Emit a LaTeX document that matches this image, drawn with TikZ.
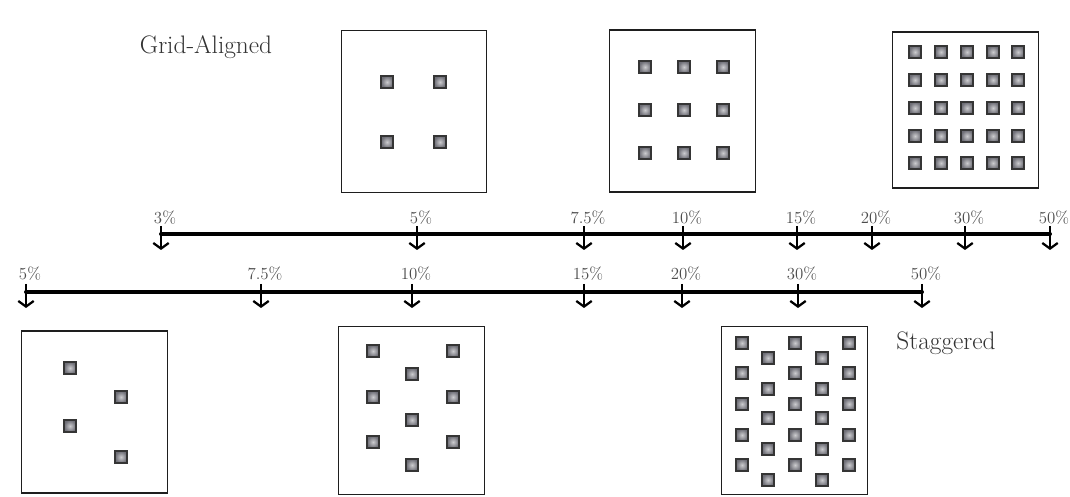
\documentclass[tikz,border=0pt]{standalone}
\usepackage{xcolor}
\usepackage{tikz}
\usetikzlibrary{arrows.meta,positioning,calc}
\definecolor{tinta}{RGB}{30,30,30}
\definecolor{grafito}{RGB}{110,110,118}
\tikzset{
  lamina/.style={draw=tinta,line width=0.8pt,minimum width=3.63cm,inner sep=0pt},
  hueco/.style={draw=tinta!90,line width=1.2pt,inner color=grafito!35,outer color=grafito,minimum size=0.29cm,inner sep=0pt},
  regla/.style={draw=black,line width=2.8pt,line cap=round},
  marca/.style={draw=black,line width=1.6pt,-{Straight Barb[length=4pt,width=11pt]}},
  etiqueta/.style={font=\fontsize{12}{13}\selectfont,text=black!70,inner sep=0pt},
  titulo/.style={font=\fontsize{18}{20}\selectfont,text=black!80,inner sep=0pt}
}
\begin{document}
\begin{tikzpicture}[x=0.025cm,y=-0.025cm]
\useasboundingbox (0,0) rectangle (1070,497);

\node[titulo] (grid) at (206,47) {Grid-Aligned};
\node[titulo] (stag) at (946,343) {Staggered};

% alineados
\node[lamina,minimum height=4.03cm] (p1) at (414,111.5) {};
\node[lamina,minimum height=4.05cm] (p2) at (682.5,111) {};
\node[lamina,minimum height=3.9cm] (p3) at (965.5,110) {};
\foreach \x in {387,440} \foreach \y in {82,142}
  \node[hueco] (a\x-\y) at (\x,\y) {};
\foreach \x in {645,684,723} \foreach \y in {67,110,153}
  \node[hueco] (b\x-\y) at (\x,\y) {};
\foreach \x in {915,941,967,993,1018} \foreach \y in {52,80,108,136,163}
  \node[hueco] (c\x-\y) at (\x,\y) {};

% reglas
\foreach \x/\t [count=\i] in {161/3\%,417/5\%,584/7.5\%,683/10\%,797/15\%,872/20\%,965/30\%,1050/50\%}{
  \coordinate (s\i) at (\x,234);
  \node[etiqueta] (ls\i) at (\x+4,218) {\t};
  \draw[marca] (s\i) ++(0,-8) -- ++(0,24);
}
\draw[regla] (s1) -- (s8);
\foreach \x/\t [count=\i] in {26/5\%,261/7.5\%,412/10\%,584/15\%,682/20\%,798/30\%,922/50\%}{
  \coordinate (t\i) at (\x,292);
  \node[etiqueta] (lt\i) at (\x+4,274) {\t};
  \draw[marca] (t\i) ++(0,-8) -- ++(0,24);
}
\draw[regla] (t1) -- (t7);

% escalonados
\node[lamina,minimum height=4.05cm] (q1) at (94.5,412) {};
\node[lamina,minimum height=4.18cm] (q2) at (411.5,410.5) {};
\node[lamina,minimum height=4.18cm] (q3) at (794.5,410.5) {};
\foreach \x/\y in {70/368,121/397,70/426,121/457}
  \node[hueco] (d\x-\y) at (\x,\y) {};
\foreach \x/\y in {373/351,453/351,412/374,373/397,453/397,412/420,373/442,453/442,412/465}
  \node[hueco] (e\x-\y) at (\x,\y) {};
\foreach \x in {742,795,849} \foreach \y in {343,373,404,435,465}
  \node[hueco] (f\x-\y) at (\x,\y) {};
\foreach \x in {768,822} \foreach \y in {358,389,418,449,480}
  \node[hueco] (f\x-\y) at (\x,\y) {};
\end{tikzpicture}
\end{document}
